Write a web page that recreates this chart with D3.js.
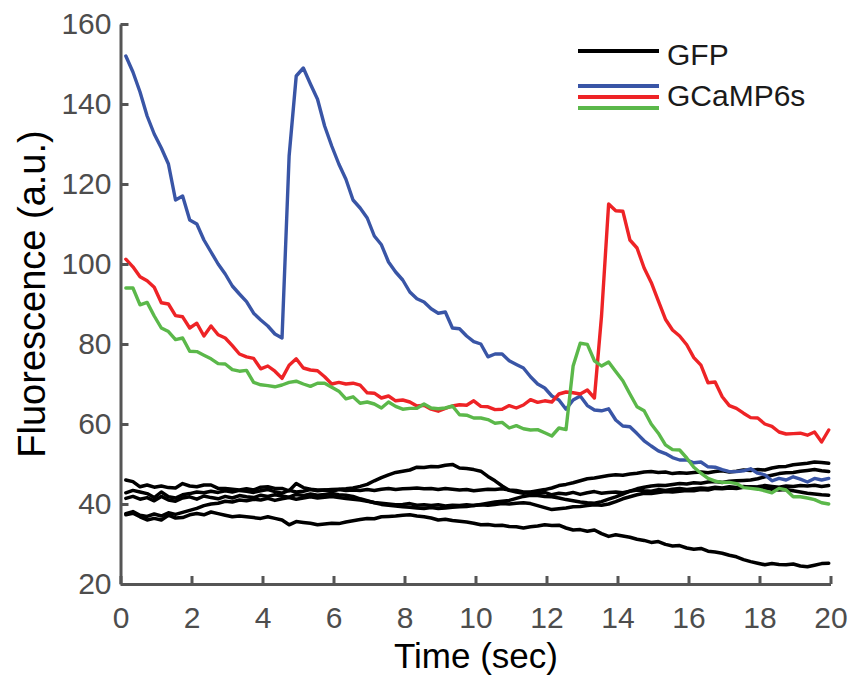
<!DOCTYPE html>
<html>
<head>
<meta charset="utf-8">
<script src="https://cdn.jsdelivr.net/npm/d3@7"></script>
<style>
    body { margin: 0; background: #fff; }
    svg text { font-family: "Liberation Sans", Arial, sans-serif; }
</style>
</head>
<body>
<div id="chart"></div>
<script>
// sampling of the traces (sec)
const t0 = 0.15, dt = 0.2;

// GCaMP6s traces
const blue = [152, 148, 143, 137, 132.5, 129, 125, 116, 117, 111,
    110, 106, 103, 100, 97.5, 94.5, 92.5, 90.6, 87.7, 86,
    84.5, 82.5, 81.5, 127, 147, 149, 145, 141.2, 134.5, 129.5,
    125, 121.2, 116, 114, 111.5, 107, 104.8, 100.5, 98, 96,
    93, 91.3, 90.5, 88.8, 87.7, 88, 84, 83.8, 82, 80.6,
    80, 76.8, 77.5, 77.5, 75.8, 74.9, 74, 71.8, 70, 69,
    67, 66, 63.7, 66, 67, 64.6, 63.5, 63.3, 63.8, 61,
    59.5, 59.3, 57.6, 55.8, 54.5, 53.3, 52.6, 51.6, 51, 51,
    50.3, 50.5, 49.3, 49.2, 48.6, 48.1, 48.1, 48.3, 48.8, 47.7,
    47.3, 45.8, 46.4, 46, 46.8, 46.2, 45.5, 46.4, 46, 46.4];

const red = [101.2, 99.3, 96.8, 95.8, 94.2, 90.3, 90, 87.1, 86.8, 84,
    85.2, 82, 84.5, 82.3, 81.5, 79.6, 77.5, 76.8, 76.4, 73.8,
    74.5, 73.2, 71.4, 74.7, 76.3, 74, 73.5, 73.3, 71.8, 70,
    70.4, 70, 70.2, 69.7, 67.8, 67.7, 66.5, 67, 65.8, 66,
    65.5, 64.5, 64.7, 63.7, 63.2, 63.9, 64.5, 64.8, 64.7, 65.8,
    64.4, 64.3, 63.6, 63.7, 64.6, 64, 64.75, 66.1, 65.4, 65.8,
    65.5, 67.5, 68, 67.8, 67.5, 68.5, 66.5, 87, 115, 113.3,
    113.2, 106, 104, 99, 95.4, 90.8, 86.2, 83.5, 82, 79.8,
    76.6, 74.7, 70.3, 70.5, 66.8, 64.6, 63.9, 62.7, 61.6, 61.5,
    60, 59.4, 58, 57.5, 57.6, 57.7, 57.2, 58, 55.5, 58.5];

const green = [94, 94, 89.8, 90.4, 87, 84, 83.1, 81.1, 81.5, 78.2,
    78.1, 77.2, 76.3, 75.1, 75, 73.6, 73.2, 73.4, 70.4, 69.8,
    69.6, 69.3, 69.75, 70.4, 70.7, 70, 69.4, 70.2, 70.2, 69.2,
    68.2, 66.3, 66.8, 65.2, 65.5, 65, 64, 65.5, 64.4, 63.7,
    63.9, 63.9, 65, 64, 63.8, 64, 64.5, 62.3, 62.2, 61.5,
    61.5, 61.1, 60.2, 60.4, 59, 59.6, 58.8, 58.5, 58.6, 57.8,
    57, 59, 58.6, 74.5, 80.2, 79.9, 75.8, 74.5, 75.5, 73.1,
    70.8, 67.5, 64.3, 63.3, 60, 57.7, 54.8, 53.6, 53.5, 51.5,
    49.2, 47.7, 46.4, 45.7, 45.4, 45.4, 45.1, 44.1, 43.9, 43.7,
    43.3, 42.8, 43.9, 43.5, 41.8, 41.8, 41.5, 41.1, 40.3, 40];

// GFP traces
const gfp1 = [42.8, 43.4, 43.0, 42.6, 41.6, 43.0, 41.8, 41.5, 42.3, 42.6,
    43.0, 42.8, 43.2, 42.9, 43.3, 43.0, 43.4, 43.2, 42.9, 43.3,
    43.6, 43.1, 42.7, 43.4, 43.0, 43.2, 43.6, 43.3, 43.5, 43.2,
    43.6, 43.4, 43.5, 43.4, 43.6, 43.4, 43.7, 43.9, 43.6, 43.8,
    43.9, 44.0, 43.8, 43.9, 43.6, 43.9, 43.7, 43.5, 43.6, 43.3,
    43.5, 43.7, 43.6, 43.8, 43.5, 43.4, 43.0, 43.0, 43.3, 43.6,
    44.0, 44.6, 44.9, 45.3, 45.8, 46.3, 46.5, 46.8, 47.1, 47.3,
    47.2, 47.5, 47.7, 48.0, 48.1, 47.9, 48.0, 47.6, 47.8, 47.7,
    47.9, 48.0, 47.8, 48.1, 48.3, 48.0, 48.2, 48.5, 48.4, 48.6,
    48.5, 49.0, 49.3, 49.4, 49.8, 50.0, 50.2, 50.5, 50.4, 50.2];

const gfp2 = [46.0, 45.6, 44.3, 44.75, 44.2, 44.5, 44.1, 44.0, 45.1, 44.5,
    44.3, 44.75, 44.75, 43.9, 43.9, 43.7, 43.5, 43.8, 43.5, 44.2,
    44.3, 43.9, 43.9, 43.3, 45.1, 44.1, 43.7, 43.5, 43.5, 43.6,
    43.7, 43.8, 44.0, 44.4, 44.9, 45.8, 46.6, 47.3, 47.9, 48.2,
    48.5, 49.2, 49.1, 49.4, 49.3, 49.7, 49.9, 49.0, 48.9, 48.6,
    48.2, 46.9, 45.8, 44.5, 43.4, 43.0, 42.7, 42.9, 42.6, 42.9,
    42.3, 42.7, 42.5, 42.9, 42.4, 42.8, 43.1, 42.7, 42.9, 43.0,
    42.8, 43.2, 43.5, 43.3, 43.2, 43.6, 43.4, 43.7, 43.9, 43.6,
    43.8, 44.0, 43.9, 44.2, 44.0, 44.3, 44.1, 44.4, 44.2, 44.3,
    44.6, 44.4, 44.2, 44.5, 44.4, 44.6, 44.5, 44.7, 44.4, 44.6];

const gfp3 = [41.4, 41.9, 41.2, 41.6, 40.8, 41.9, 41.0, 40.7, 41.5, 41.8,
    41.2, 42.0, 41.6, 41.3, 41.9, 41.5, 42.1, 41.8, 41.6, 42.2,
    41.9, 42.3, 42.0, 41.7, 42.4, 42.1, 42.5, 42.2, 42.4, 42.6,
    42.3, 42.2, 41.9, 41.3, 40.8, 40.3, 39.9, 39.7, 39.5, 39.3,
    39.2, 39.0, 38.9, 39.1, 38.9, 39.0, 39.2, 39.3, 39.4, 39.6,
    39.8, 39.7, 39.9, 40.1, 40.0, 40.2, 40.3, 40.1, 39.6, 39.1,
    38.6, 38.8, 39.0, 39.3, 39.4, 39.6, 39.8, 39.7, 40.0, 40.6,
    41.3, 41.8, 42.3, 42.7, 42.6, 42.9, 43.1, 43.0, 43.2, 43.4,
    43.3, 43.6, 43.5, 43.9, 43.8, 44.0, 43.9, 44.2, 44.3, 44.1,
    44.0, 43.7, 43.5, 43.6, 43.3, 43.0, 42.7, 42.5, 42.3, 42.2];

const gfp4 = [37.6, 38.1, 37.2, 36.9, 37.5, 37.0, 37.8, 37.4, 37.9, 38.4,
    38.9, 39.6, 40.0, 40.2, 40.7, 40.5, 41.0, 40.8, 41.2, 41.0,
    41.4, 40.9, 41.3, 41.6, 41.2, 41.5, 41.8, 41.5, 41.7, 41.9,
    41.6, 41.4, 41.2, 41.0, 40.7, 40.4, 40.2, 40.0, 39.8, 39.9,
    40.1, 39.7, 39.8, 39.6, 39.8, 39.5, 39.7, 39.6, 39.8, 39.6,
    39.9, 40.2, 40.5, 40.7, 40.9, 41.4, 41.9, 42.2, 42.1, 41.9,
    41.8, 41.5, 41.1, 40.8, 40.5, 40.3, 40.2, 40.6, 41.2, 41.8,
    42.5, 43.2, 43.8, 44.2, 44.5, 44.7, 44.6, 44.9, 45.1, 45.0,
    45.3, 45.2, 45.5, 45.6, 45.4, 45.7, 45.8, 45.9, 46.0, 46.3,
    46.8, 47.2, 47.6, 47.8, 47.9, 48.2, 48.4, 48.6, 48.3, 48.1];

const gfp5 = [37.3, 37.7, 36.8, 36.0, 36.4, 36.0, 37.2, 36.5, 36.6, 37.3,
    37.6, 37.3, 38.0, 37.6, 37.2, 36.8, 37.0, 36.8, 36.6, 36.4,
    36.8, 36.4, 36.0, 34.8, 35.6, 35.4, 35.2, 34.8, 35.0, 35.2,
    35.1, 35.5, 35.8, 36.1, 36.4, 36.3, 36.8, 36.9, 37.0, 37.2,
    37.3, 37.0, 36.8, 36.5, 36.0, 36.2, 35.9, 35.7, 35.5, 35.2,
    34.8, 34.9, 34.6, 34.7, 34.4, 34.3, 34.0, 34.3, 34.5, 34.8,
    34.6, 34.7, 34.0, 33.5, 33.6, 33.2, 33.5, 32.6, 31.9, 32.3,
    32.0, 31.7, 31.2, 30.9, 30.4, 30.6, 29.9, 29.5, 29.6, 29.0,
    28.7, 28.9, 28.2, 28.0, 27.7, 27.2, 26.8, 26.1, 25.6, 25.2,
    24.8, 25.1, 24.9, 24.8, 25.0, 24.5, 24.3, 24.7, 25.1, 25.2];

const xTicks = [0, 2, 4, 6, 8, 10, 12, 14, 16, 18, 20];
const yTicks = [20, 40, 60, 80, 100, 120, 140, 160];
const legendLabels = ['GFP', 'GCaMP6s'];

const colBlue = '#3955a6', colRed = '#ee2326', colGreen = '#5bb84a', colAxis = '#555555';

const wSvg = 852, hSvg = 677;

let svg = d3.select('#chart')
    .append('svg')
    .attr('width', wSvg)
    .attr('height', hSvg);

let xScale = d3.scaleLinear().domain([0, 20]).range([120.5, 830.5]);
let yScale = d3.scaleLinear().domain([20, 160]).range([584, 24]);

let lineMaker = d3.line()
    .x((d, i) => xScale(t0 + i * dt))
    .y(d => yScale(d));

// traces
let gLines = svg.append('g');

[gfp1, gfp2, gfp3, gfp4, gfp5].forEach(values => {
    gLines.append('path')
        .attr('d', lineMaker(values))
        .attr('fill', 'none')
        .attr('stroke', '#000')
        .attr('stroke-width', 3.5)
        .attr('stroke-linejoin', 'round')
        .attr('stroke-linecap', 'round');
});

[[blue, colBlue], [red, colRed], [green, colGreen]].forEach(([values, color]) => {
    gLines.append('path')
        .attr('d', lineMaker(values))
        .attr('fill', 'none')
        .attr('stroke', color)
        .attr('stroke-width', 3.4)
        .attr('stroke-linejoin', 'round')
        .attr('stroke-linecap', 'round');
});

// axes, ticks pointing inward
let xAx = svg.append('g')
    .attr('transform', 'translate(0, 584)')
    .call(d3.axisBottom(xScale).tickValues(xTicks).tickSizeInner(-8).tickSizeOuter(0).tickPadding(23));

let yAx = svg.append('g')
    .attr('transform', 'translate(120.5, 0)')
    .call(d3.axisLeft(yScale).tickValues(yTicks).tickSizeInner(-8).tickSizeOuter(0).tickPadding(9));

[xAx, yAx].forEach(ax => {
    ax.select('.domain').attr('stroke', colAxis).attr('stroke-width', 3);
    ax.selectAll('.tick line').attr('stroke', colAxis).attr('stroke-width', 3);
    ax.selectAll('.tick text')
        .attr('fill', '#4d4d4d')
        .style('font-size', '30px');
});

// axis titles
svg.append('text')
    .attr('x', 476)
    .attr('y', 668)
    .attr('text-anchor', 'middle')
    .style('font-size', '35px')
    .attr('fill', '#000')
    .text('Time (sec)');

svg.append('text')
    .attr('transform', 'translate(45, 294) rotate(-90)')
    .attr('text-anchor', 'middle')
    .style('font-size', '38px')
    .attr('fill', '#000')
    .text('Fluorescence (a.u.)');

// legend
let gLegend = svg.append('g');

gLegend.append('line')
    .attr('x1', 578).attr('x2', 659).attr('y1', 51).attr('y2', 51)
    .attr('stroke', '#000').attr('stroke-width', 4);

[[colBlue, 86], [colRed, 97], [colGreen, 108]].forEach(([color, yPos]) => {
    gLegend.append('line')
        .attr('x1', 578).attr('x2', 659).attr('y1', yPos).attr('y2', yPos)
        .attr('stroke', color).attr('stroke-width', 3.8);
});

gLegend.selectAll('legendText')
    .data(legendLabels)
    .enter()
    .append('text')
    .attr('x', 667)
    .attr('y', (d, i) => i === 0 ? 65 : 106)
    .style('font-size', '30px')
    .attr('fill', '#1a1a1a')
    .text(d => d);
</script>
</body>
</html>
